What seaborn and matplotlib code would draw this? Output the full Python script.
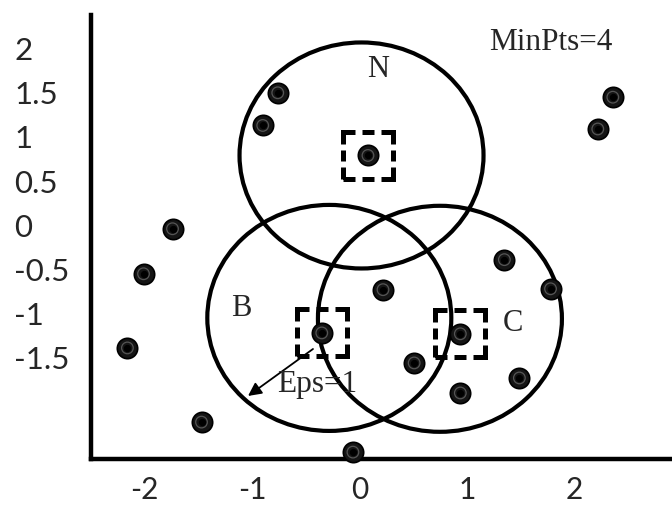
import matplotlib
matplotlib.use("Agg")
import matplotlib.pyplot as plt
import pandas as pd
import seaborn as sns
from matplotlib.patches import Ellipse, Rectangle

# Sample points of the DBSCAN example
x_vals = [-0.76, -0.90, -1.74, -2.01, -2.16, -1.47, 0.08, 2.36, 2.22,
          -0.35, 0.22, 1.35, 1.78, 0.94, 0.51, 0.94, 1.49, -0.06]
y_vals = [1.50, 1.13, -0.04, -0.55, -1.39, -2.23, 0.79, 1.45, 1.09,
          -1.22, -0.73, -0.39, -0.72, -1.23, -1.56, -1.90, -1.73, -2.57]

# Points marked with a dashed box, and the centres of their Eps rings
core_names = ["N", "B", "C"]
core_index = [6, 9, 13]
ring_cx = [0.02, -0.28, 0.75]
ring_cy = [0.79, -1.05, -1.06]

eps = 1
min_pts = 4

x_ticks = [-2, -1, 0, 1, 2]
x_tick_labels = ["-2", "-1", "0", "1", "2"]
y_ticks = [2, 1.5, 1, 0.5, 0, -0.5, -1, -1.5]
y_tick_labels = ["2", "1.5", "1", "0.5", "0", "-0.5", "-1", "-1.5"]

sns.set_style("white")
plt.rcParams["lines.scale_dashes"] = False

PX = 0.72  # points per pixel at 100 dpi

fig = plt.figure(figsize=(6.72, 5.09), dpi=100)
ax = fig.add_axes([91 / 672, 50 / 509, 581 / 672, 444 / 509])
ax.set_xlim(-2.499, 2.911)
ax.set_ylim(-2.648, 2.381)

df = pd.DataFrame({"x": x_vals, "y": y_vals})

# Eps neighbourhoods (drawn a little wider than Eps so the rings clear their points)
ring_sx, ring_sy = 1.136, 1.28
for cx, cy in zip(ring_cx, ring_cy):
    ax.add_patch(Ellipse((cx, cy), 2 * eps * ring_sx, 2 * eps * ring_sy,
                         fill=False, ec="black", lw=3.0, zorder=2))

# Data points: dark disc with a grey inner ring
sns.scatterplot(data=df, x="x", y="y", ax=ax, s=215, color="#151515",
                edgecolor="black", linewidth=1.2, zorder=5, clip_on=False,
                legend=False)
ax.scatter(df["x"], df["y"], s=70, facecolor="none", edgecolor="#555555",
           linewidth=0.9, zorder=6, clip_on=False)
ax.scatter(df["x"], df["y"], s=18, color="black", zorder=7, clip_on=False)

# Dashed boxes around the core points
box_w, box_h = 0.466, 0.532
dash = [24 * PX, 7 * PX, 12 * PX, 7 * PX, 24 * PX, 6 * PX, 11 * PX, 6 * PX]
for i in core_index:
    ax.add_patch(Rectangle((x_vals[i] - box_w / 2, y_vals[i] - box_h / 2),
                           box_w, box_h, fill=False, ec="black", lw=3.6,
                           linestyle=(12 * PX, dash), zorder=8))

serif = "Liberation Serif"
label_pos = {"N": (0.173, 1.763), "B": (-1.102, -0.938), "C": (1.430, -1.108)}
for name in core_names:
    lx, ly = label_pos[name]
    ax.text(lx, ly, name, fontsize=22, family=serif, ha="center", va="center",
            zorder=9)

ax.text(1.207, 1.985, f"MinPts={min_pts}", fontsize=22.5, family=serif,
        ha="left", va="baseline", zorder=9)

# Eps radius arrow
ax.annotate("", xy=(-1.037, -1.934), xytext=(-0.432, -1.402),
            arrowprops=dict(arrowstyle="-|>", color="black", lw=1.3,
                            mutation_scale=20, shrinkA=0, shrinkB=0),
            zorder=9)
ax.text(-0.767, -1.889, f"Eps={eps}", fontsize=22.5, family=serif,
        ha="left", va="baseline", zorder=9)

# Axes styling
ax.set_xlabel("")
ax.set_ylabel("")
ax.set_xticks(x_ticks)
ax.set_xticklabels(x_tick_labels, family="Lato", fontsize=21.5)
ax.set_yticks(y_ticks)
ax.set_yticklabels(y_tick_labels, family="Lato", fontsize=22.5)
for lab in ax.get_yticklabels():
    lab.set_horizontalalignment("left")
ax.tick_params(axis="both", length=0)
ax.tick_params(axis="y", pad=77 * PX)
ax.tick_params(axis="x", pad=12)

for side in ["top", "right"]:
    ax.spines[side].set_visible(False)
for side in ["left", "bottom"]:
    ax.spines[side].set_color("black")
    ax.spines[side].set_linewidth(3.2)

fig.savefig("out.png", dpi=100)
